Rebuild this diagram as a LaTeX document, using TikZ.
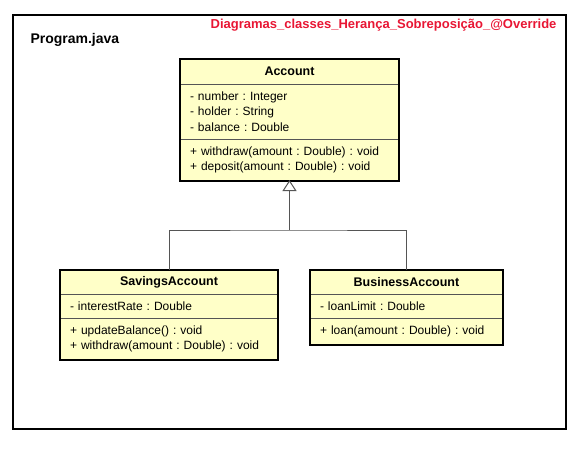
\documentclass[tikz,border=0pt]{standalone}
\usepackage{fontspec}
\setmainfont{Liberation Sans}
\usetikzlibrary{arrows.meta}
\usetikzlibrary{positioning}
\definecolor{umlfill}{RGB}{255,255,200}
\definecolor{titlered}{RGB}{232,22,52}
\definecolor{linegray}{RGB}{85,85,85}
\frenchspacing

\begin{document}
\begin{tikzpicture}[x=1pt,y=-1pt,font=\fontsize{12}{15.5}\selectfont,>={Triangle[open,length=11pt,width=14pt]}]
	\tikzstyle{part}=[draw=linegray,fill=umlfill,line width=0.8pt,outer sep=0pt,inner xsep=10pt,inner ysep=0pt]
	\tikzstyle{head}=[part,font=\fontsize{12.5}{15.5}\selectfont\bfseries]
	\tikzstyle{members}=[part,align=left]
	\tikzstyle{border}=[draw=black,line width=2pt]
	\tikzstyle{link}=[draw=linegray,line width=1pt]

	\useasboundingbox (0,0) rectangle (578,450);
	\draw[border] (13,15) rectangle (566,429);

	\node[anchor=west,font=\fontsize{14}{16}\selectfont\bfseries] (prog) at (27,40) {Program.java};
	\node[anchor=east,text=titlered,font=\fontsize{13}{16}\selectfont\bfseries] (title) at (560,25) {Diagramas\_classes\_Herança\_Sobreposição\_@Override};

	% Account
	\node[head,minimum width=219pt,minimum height=25pt] (acc) at (289.5,71.5) {Account};
	\node[members,text width=199pt,minimum height=55pt,below=0pt of acc] (accA) {- number : Integer\\- holder : String\\- balance : Double};
	\node[members,text width=199pt,minimum height=42pt,below=0pt of accA] (accM) {+ withdraw(amount : Double) : void\\+ deposit(amount : Double) : void};
	\draw[border] (acc.north west) rectangle (accM.south east);

	% SavingsAccount
	\node[head,minimum width=218pt,minimum height=24pt] (sav) at (169,282) {SavingsAccount};
	\node[members,text width=198pt,minimum height=24pt,below=0pt of sav] (savA) {- interestRate : Double};
	\node[members,text width=198pt,minimum height=42pt,below=0pt of savA] (savM) {+ updateBalance() : void\\+ withdraw(amount : Double) : void};
	\draw[border] (sav.north west) rectangle (savM.south east);

	% BusinessAccount
	\node[head,minimum width=193pt,minimum height=24pt] (bus) at (406.5,282) {BusinessAccount};
	\node[members,text width=173pt,minimum height=24pt,below=0pt of bus] (busA) {- loanLimit : Double};
	\node[members,text width=173pt,minimum height=27pt,below=0pt of busA] (busM) {+ loan(amount : Double) : void};
	\draw[border] (bus.north west) rectangle (busM.south east);

	% inheritance
	\coordinate (join) at (accM.south |- 0,230);
	\draw[link] (sav.north) |- (join) -| (bus.north);
	\draw[link,->,shorten >=-1pt] (join) -- (accM.south);
\end{tikzpicture}
\end{document}
